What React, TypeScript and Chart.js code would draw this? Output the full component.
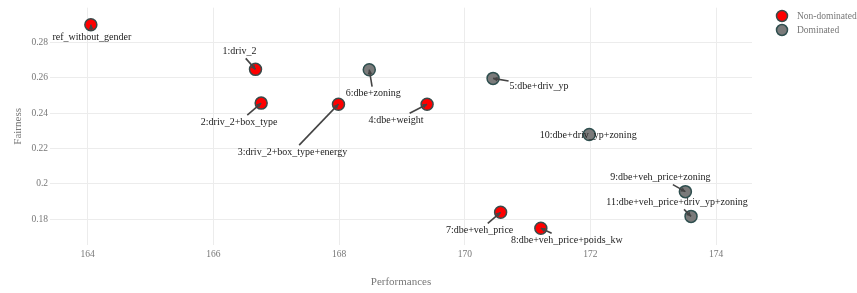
import React, { useEffect, useRef } from "react";
import { Chart, registerables } from "chart.js";

Chart.register(...registerables);

// ---- data ----
const labels = [
  "ref_without_gender",
  "1:driv_2",
  "2:driv_2+box_type",
  "3:driv_2+box_type+energy",
  "4:dbe+weight",
  "5:dbe+driv_yp",
  "6:dbe+zoning",
  "7:dbe+veh_price",
  "8:dbe+veh_price+poids_kw",
  "9:dbe+veh_price+zoning",
  "10:dbe+driv_yp+zoning",
  "11:dbe+veh_price+driv_yp+zoning",
];
const performances = [164.05, 166.67, 166.76, 167.99, 169.4, 170.45, 168.48, 170.57, 171.21, 173.51, 171.98, 173.6];
const fairness = [0.29, 0.2647, 0.2456, 0.245, 0.245, 0.2596, 0.2645, 0.1838, 0.1748, 0.1955, 0.2278, 0.1815];
const status = [
  "Non-dominated", "Non-dominated", "Non-dominated", "Non-dominated", "Non-dominated",
  "Dominated", "Dominated", "Non-dominated", "Non-dominated", "Dominated", "Dominated", "Dominated",
];
const groups = ["Non-dominated", "Dominated"];
const xTicks = [164, 166, 168, 170, 172, 174];
const yTicks = [0.18, 0.2, 0.22, 0.24, 0.26, 0.28];
const yTickLabels = ["0.18", "0.2", "0.22", "0.24", "0.26", "0.28"];

// annotation label offsets in pixels (layout, like plotly ax/ay)
const labelOffsets: [number, number][] = [
  [1, 13], [-16, -18], [-22, 19], [-46, 48], [-31, 16], [46, 8],
  [4, 24], [-21, 18], [26, 12], [-25, -14], [-1, 1], [-14, -14],
];

const fills: Record<string, string> = { "Non-dominated": "#FF0000", Dominated: "#7A7A7A" };
const borders: Record<string, string> = { "Non-dominated": "#3A4A4A", Dominated: "#2F4F4F" };
const SERIF = "'Liberation Serif', 'Times New Roman', serif";

const annotationPlugin = {
  id: "annot",
  afterDatasetsDraw(chart: any) {
    const ctx = chart.ctx;
    const xs = chart.scales.x;
    const ys = chart.scales.y;
    ctx.save();
    ctx.font = `10px ${SERIF}`;
    ctx.textAlign = "center";
    ctx.textBaseline = "middle";
    labels.forEach((lab, i) => {
      const px = xs.getPixelForValue(performances[i]);
      const py = ys.getPixelForValue(fairness[i]);
      const [ox, oy] = labelOffsets[i];
      const tx = px + ox;
      const ty = py + oy;
      const hw = ctx.measureText(lab).width / 2 + 1;
      const hh = 7;
      const dx = px - tx;
      const dy = py - ty;
      const t = Math.min(dx !== 0 ? hw / Math.abs(dx) : Infinity, dy !== 0 ? hh / Math.abs(dy) : Infinity);
      if (t < 1) {
        const sx = tx + dx * t;
        const sy = ty + dy * t;
        ctx.strokeStyle = "#444";
        ctx.fillStyle = "#444";
        ctx.lineWidth = 1.6;
        ctx.beginPath();
        ctx.moveTo(sx, sy);
        ctx.lineTo(px, py);
        ctx.stroke();
        const ang = Math.atan2(py - sy, px - sx);
        const L = 5;
        ctx.beginPath();
        ctx.moveTo(px, py);
        ctx.lineTo(px - L * Math.cos(ang - 0.5), py - L * Math.sin(ang - 0.5));
        ctx.lineTo(px - L * Math.cos(ang + 0.5), py - L * Math.sin(ang + 0.5));
        ctx.closePath();
        ctx.fill();
      }
      ctx.fillStyle = "#222";
      ctx.fillText(lab, tx, ty);
    });
    // legend
    ctx.textAlign = "left";
    ctx.font = `9.5px ${SERIF}`;
    groups.forEach((g, k) => {
      const cx = chart.chartArea.right + 30;
      const cy = 16 + k * 14;
      ctx.beginPath();
      ctx.arc(cx, cy, 5.5, 0, Math.PI * 2);
      ctx.fillStyle = fills[g];
      ctx.fill();
      ctx.lineWidth = 1.5;
      ctx.strokeStyle = borders[g];
      ctx.stroke();
      ctx.fillStyle = "#777";
      ctx.fillText(g, cx + 15, cy);
    });
    ctx.restore();
  },
};

export default function App() {
  const ref = useRef<HTMLCanvasElement | null>(null);
  useEffect(() => {
    document.body.style.margin = "0";
    const datasets = groups.map((g) => {
      const idx = status.map((s, i) => (s === g ? i : -1)).filter((i) => i >= 0);
      return {
        label: g,
        data: idx.map((i) => ({ x: performances[i], y: fairness[i] })),
        backgroundColor: fills[g],
        borderColor: borders[g],
        borderWidth: 1.5,
        pointRadius: 6,
      };
    });
    const chart = new Chart(ref.current as HTMLCanvasElement, {
      type: "scatter",
      data: { datasets },
      options: {
        animation: false,
        responsive: false,
        layout: { padding: { top: 5, right: 105, left: 0, bottom: 0 } },
        plugins: { legend: { display: false }, tooltip: { enabled: false } },
        scales: {
          x: {
            type: "linear",
            min: 163.4,
            max: 174.57,
            afterBuildTicks: (s: any) => {
              s.ticks = xTicks.map((v) => ({ value: v }));
            },
            afterFit: (s: any) => {
              s.height = 48;
            },
            grid: { color: "#ececec", drawTicks: false },
            border: { display: false },
            ticks: { color: "#777", font: { family: SERIF, size: 9.5 }, padding: 4 },
            title: {
              display: true,
              text: "Performances",
              color: "#777",
              font: { family: SERIF, size: 11 },
              padding: { top: 0, bottom: 4 },
            },
          },
          y: {
            type: "linear",
            min: 0.1653,
            max: 0.2996,
            afterBuildTicks: (s: any) => {
              s.ticks = yTicks.map((v) => ({ value: v }));
            },
            afterFit: (s: any) => {
              s.width = 50;
            },
            grid: { color: "#ececec", drawTicks: false },
            border: { display: false },
            ticks: {
              color: "#777",
              font: { family: SERIF, size: 9.5 },
              padding: 2,
              callback: (v: any) => {
                const k = yTicks.findIndex((t) => Math.abs(t - v) < 1e-9);
                return k >= 0 ? yTickLabels[k] : "";
              },
            },
            title: {
              display: true,
              text: "Fairness",
              color: "#777",
              font: { family: SERIF, size: 11 },
              padding: { top: 12, bottom: 0 },
            },
          },
        },
      },
      plugins: [annotationPlugin],
    } as any);
    return () => chart.destroy();
  }, []);
  return (
    <div style={{ width: 857, height: 293 }}>
      <canvas ref={ref} width={857} height={293} style={{ display: "block" }} />
    </div>
  );
}
